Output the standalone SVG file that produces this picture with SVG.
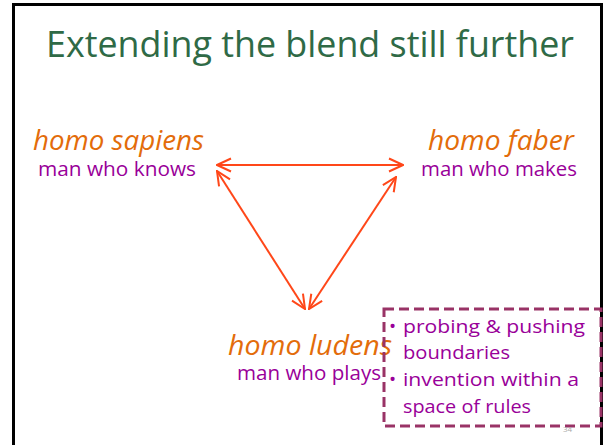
<svg xmlns="http://www.w3.org/2000/svg" width="604" height="445" viewBox="0 0 604 445">
<style>
  .t { font-family: "Open Sans", "Noto Sans", sans-serif; }
  .title { fill: #2f6a46; font-size: 36px; }
  .latin { fill: #e36c0a; font-size: 27px; font-style: italic; }
  .eng { fill: #990099; font-size: 20px; }
  .bul { fill: #990099; font-size: 19px; }
  .conn { stroke: #ff4719; stroke-width: 2; fill: none; }
</style>
<defs>
  <marker id="ah" viewBox="0 0 16 16" refX="15" refY="8" markerWidth="16" markerHeight="16" markerUnits="userSpaceOnUse" orient="auto-start-reverse">
    <path d="M1,1.5 L15,8 L1,14.5" fill="none" stroke="#ff4719" stroke-width="2"/>
  </marker>
</defs>
<rect x="0" y="0" width="604" height="445" fill="#ffffff"/>
<path d="M13.5,445 V4.5 H601.5 V445" fill="none" stroke="#000" stroke-width="3"/>
<text class="t title" x="310" y="57" text-anchor="middle" textLength="528" lengthAdjust="spacingAndGlyphs">Extending the blend still further</text>
<g id="connectors">
  <line class="conn" x1="217" y1="165" x2="403" y2="165" marker-start="url(#ah)" marker-end="url(#ah)"/>
  <line class="conn" x1="217" y1="171" x2="305" y2="309" marker-start="url(#ah)" marker-end="url(#ah)"/>
  <line class="conn" x1="309" y1="309" x2="396" y2="177" marker-start="url(#ah)" marker-end="url(#ah)"/>
</g>
<g id="node-sapiens">
  <text class="t latin" x="33" y="150" textLength="171" lengthAdjust="spacingAndGlyphs">homo sapiens</text>
  <text class="t eng" x="38" y="176" textLength="158" lengthAdjust="spacingAndGlyphs">man who knows</text>
</g>
<g id="node-faber">
  <text class="t latin" x="428" y="150" textLength="146" lengthAdjust="spacingAndGlyphs">homo faber</text>
  <text class="t eng" x="421" y="176" textLength="156" lengthAdjust="spacingAndGlyphs">man who makes</text>
</g>
<g id="node-ludens">
  <text class="t latin" x="228" y="355" textLength="164" lengthAdjust="spacingAndGlyphs">homo ludens</text>
  <text class="t eng" x="237" y="380" textLength="144" lengthAdjust="spacingAndGlyphs">man who plays</text>
</g>
<g id="note">
  <rect x="384" y="309" width="217" height="117" fill="none" stroke="#993366" stroke-width="3" stroke-dasharray="10,5"/>
  <text class="t bul" x="389" y="333">•</text>
  <text class="t bul" x="403" y="333" textLength="182" lengthAdjust="spacingAndGlyphs">probing &amp; pushing</text>
  <text class="t bul" x="403" y="359" textLength="107" lengthAdjust="spacingAndGlyphs">boundaries</text>
  <text class="t bul" x="389" y="386">•</text>
  <text class="t bul" x="403" y="386" textLength="176" lengthAdjust="spacingAndGlyphs">invention within a</text>
  <text class="t bul" x="403" y="413" textLength="128" lengthAdjust="spacingAndGlyphs">space of rules</text>
</g>
<text class="t" x="563" y="432" font-size="8" fill="#aaaaaa">34</text>
</svg>
